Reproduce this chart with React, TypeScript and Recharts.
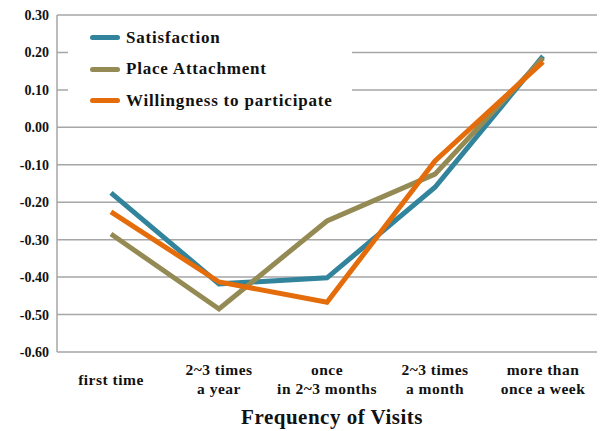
import React from 'react';
import { LineChart, Line, XAxis, YAxis, CartesianGrid } from 'recharts';

const categories = ['first time', '2~3 times\na year', 'once\nin 2~3 months', '2~3 times\na month', 'more than\nonce a week'];
const satisfaction = [-0.175, -0.418, -0.402, -0.16, 0.19];
const placeAttachment = [-0.285, -0.485, -0.25, -0.125, 0.185];
const willingness = [-0.226, -0.413, -0.467, -0.09, 0.175];
const yTicks = [0.3, 0.2, 0.1, 0, -0.1, -0.2, -0.3, -0.4, -0.5, -0.6];

const seriesInfo = [
  { key: 'sat', name: 'Satisfaction', color: '#31849B' },
  { key: 'pa', name: 'Place Attachment', color: '#948A54' },
  { key: 'will', name: 'Willingness to participate', color: '#E46C0A' },
];

const data = categories.map((c, i) => ({
  name: c,
  sat: satisfaction[i],
  pa: placeAttachment[i],
  will: willingness[i],
}));

const FONT = '"Liberation Serif", "DejaVu Serif", serif';

const CategoryTick = (props: any) => {
  const { x, y, payload } = props;
  const lines: string[] = String(payload.value).split('\n');
  const startY = lines.length === 1 ? 25 : 15;
  return (
    <g transform={`translate(${x},${y})`}>
      {lines.map((l, i) => (
        <text key={i} x={0} y={startY + i * 19} textAnchor="middle" fontSize={15.5} letterSpacing={0.5} fontWeight="bold" fontFamily={FONT} fill="#111">
          {l}
        </text>
      ))}
    </g>
  );
};

// legend drawn as an overlay so it covers the gridlines like the original
const LegendBox = () => (
  <div
    style={{
      position: 'absolute', top: 22, left: 68, width: 284, height: 95, background: '#fff',
      fontFamily: FONT, fontWeight: 'bold', fontSize: 17, letterSpacing: 0.8, color: '#111',
    }}
  >
    {seriesInfo.map((s) => (
      <div key={s.key} style={{ display: 'flex', alignItems: 'center', height: 31.5 }}>
        <div style={{ width: 30, height: 5, borderRadius: 3, background: s.color, marginLeft: 22, marginRight: 6 }} />
        <span>{s.name}</span>
      </div>
    ))}
  </div>
);

export default function App() {
  return (
    <div style={{ position: 'absolute', left: 0, top: 0, width: 600, height: 431, background: '#fff' }}>
      <LineChart width={600} height={431} data={data} margin={{ top: 15, right: 3, bottom: 22, left: 0 }}>
        <CartesianGrid vertical={false} stroke="#a6a6a6" strokeWidth={1.5} />
        <XAxis
          dataKey="name"
          axisLine={false}
          tickLine={false}
          interval={0}
          padding={{ left: 54, right: 54 }}
          tick={<CategoryTick />}
          height={57}
          label={{ value: 'Frequency of Visits', position: 'insideBottom', offset: -15, fontSize: 21, letterSpacing: 0.5, fontWeight: 'bold', fontFamily: FONT, fill: '#111', dx: 5 }}
        />
        <YAxis
          type="number"
          domain={[-0.6, 0.3]}
          ticks={yTicks}
          interval={0}
          width={57}
          axisLine={{ stroke: '#a6a6a6', strokeWidth: 1.5 }}
          tickLine={false}
          tickFormatter={(v: number) => v.toFixed(2)}
          tick={{ fontSize: 14, fontWeight: 'bold', fontFamily: FONT, fill: '#111' }}
        />
        {seriesInfo.map((s) => (
          <Line
            key={s.key}
            type="linear"
            dataKey={s.key}
            name={s.name}
            stroke={s.color}
            strokeWidth={5}
            dot={false}
            activeDot={false}
            isAnimationActive={false}
          />
        ))}
      </LineChart>
      <LegendBox />
    </div>
  );
}
